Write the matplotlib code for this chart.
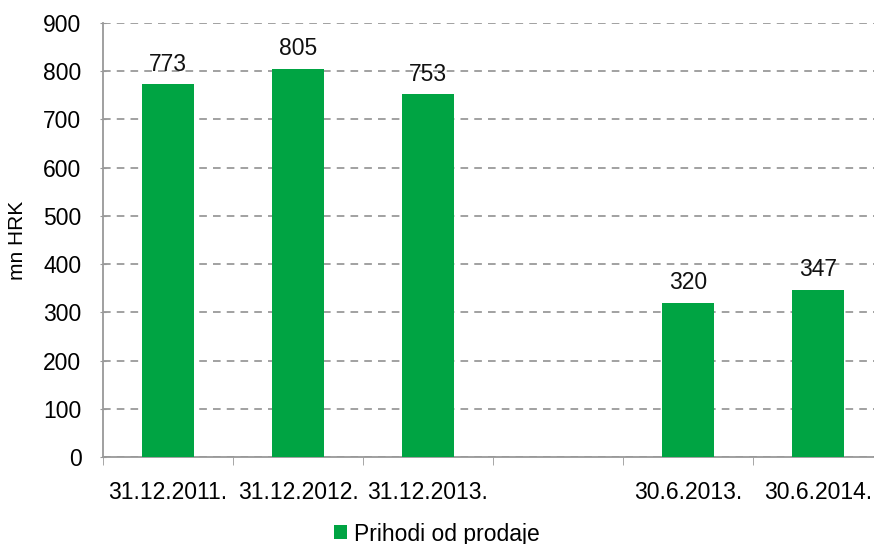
import matplotlib
matplotlib.use("Agg")
import matplotlib.pyplot as plt
from matplotlib.ticker import FixedLocator

categories = ["31.12.2011.", "31.12.2012.", "31.12.2013.", "", "30.6.2013.", "30.6.2014."]
values = [773, 805, 753, None, 320, 347]
series_name = "Prihodi od prodaje"
yticks = [0, 100, 200, 300, 400, 500, 600, 700, 800, 900]

plt.rcParams['font.family'] = ['Liberation Sans', 'DejaVu Sans']
green = "#00A443"
fs = 16.5

fig = plt.figure(figsize=(8.74, 5.44), dpi=100)
ax = fig.add_axes([103/874, 87/544, 780/874, 434/544])

xs = [i for i, v in enumerate(values) if v is not None]
vs = [v for v in values if v is not None]
bars = ax.bar(xs, vs, width=0.4, color=green, label=series_name, zorder=3)
for x, v in zip(xs, vs):
    ax.annotate(str(v), (x, v), xytext=(0, 6), textcoords="offset points",
                ha="center", va="bottom", fontsize=fs, color="#111111")

ax.set_xlim(-0.5, len(categories) - 0.5)
ax.set_ylim(0, 900)
ax.set_yticks(yticks)
ax.set_yticklabels([str(t) for t in yticks], fontsize=fs)
ax.set_xticks(range(len(categories)))
ax.set_xticklabels(categories, fontsize=fs)
ax.xaxis.set_minor_locator(FixedLocator([i - 0.5 for i in range(len(categories) + 1)]))
ax.tick_params(axis="x", which="major", length=0, pad=17)
ax.tick_params(axis="x", which="minor", length=6, color="#999999", direction="out")
ax.tick_params(axis="y", length=5, color="#999999", direction="inout", pad=13)

ax.yaxis.grid(True, linestyle=(0, (5, 4)), color="#888888", linewidth=1.1, zorder=0)
ax.set_axisbelow(True)
for s in ["top", "right"]:
    ax.spines[s].set_visible(False)
ax.spines["left"].set_color("#999999")
ax.spines["bottom"].set_color("#999999")
ax.spines["left"].set_linewidth(1.3)
ax.spines["bottom"].set_linewidth(1.3)

ax.set_ylabel("mn HRK", fontsize=15, labelpad=12)

fig.legend(handles=[bars], labels=[series_name], loc="center", bbox_to_anchor=(0.5, 10/544),
           frameon=False, fontsize=fs, handlelength=0.55, handleheight=0.55, handletextpad=0.3)

fig.savefig("out.png", dpi=100)
